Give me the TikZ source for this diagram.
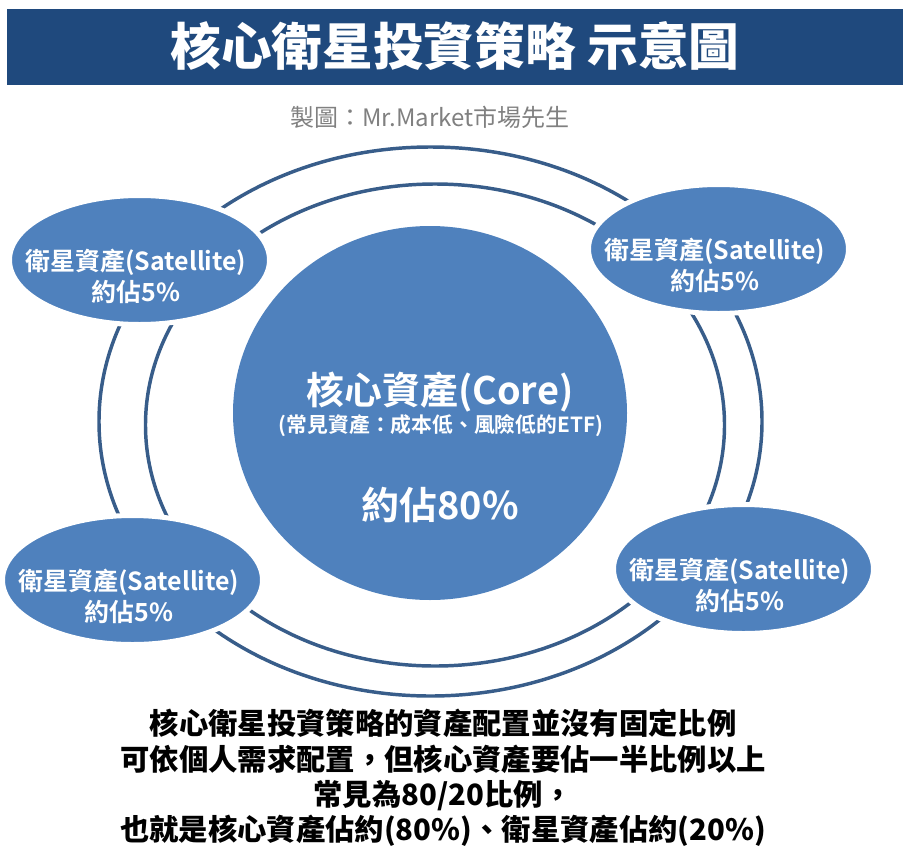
\documentclass[tikz,border=0pt]{standalone}
\usepackage{fontspec}
\setmainfont{Noto Sans CJK TC}[BoldFont={Noto Sans CJK TC Bold}]
\newfontfamily\heavyfont{Noto Sans CJK TC Black}
\usetikzlibrary{shapes.geometric}
\definecolor{titleblue}{HTML}{1F497D}
\definecolor{discblue}{HTML}{4F81BD}
\definecolor{ringblue}{HTML}{385D8A}
\tikzset{
  px/.style={x=0.75pt,y=-0.75pt},
  satellite/.style={ellipse,fill=discblue,draw=white,line width=3.75pt,minimum width=195pt,
    minimum height=96.75pt,inner sep=0pt},
  sattext/.style={xshift=-2.6pt,yshift=-12.4pt,align=center,text=white,
    font=\bfseries\fontsize{18.7pt}{23pt}\selectfont},
  ring/.style={draw=ringblue,line width=2.6pt},
}
\begin{document}
\begin{tikzpicture}[px]
    \useasboundingbox (0,0) rectangle (903,864);
    % ------ banner ---------------
    \fill [titleblue] (7,9) rectangle (903,85);
    \node (title) at (455,46) [text=white,font=\heavyfont\fontsize{38pt}{40pt}\selectfont] {核心衛星投資策略 示意圖};
    \node (credit) at (430,117) [text=gray,font=\fontsize{18pt}{20pt}\selectfont] {製圖：Mr.Market市場先生};

    % ------ rings ---------------
    \draw [ring] (430.5,421.5) ellipse (331.5 and 274.5);
    \draw [ring] (435,425) ellipse (289.5 and 241);

    % ------ discs ---------------
    \node (core) at (430,413) [ellipse,fill=discblue,minimum width=295.5pt,minimum height=280.5pt,inner sep=0pt] {};
    \node (sat1) at (139.5,260) [satellite] {};
    \node (sat2) at (718.5,249) [satellite] {};
    \node (sat3) at (132.5,580) [satellite] {};
    \node (sat4) at (743.5,569) [satellite] {};
    \node (sat1txt) at (sat1) [sattext] {衛星資產(Satellite)\\約佔5\%};
    \node (sat2txt) at (sat2) [sattext] {衛星資產(Satellite)\\約佔5\%};
    \node (sat3txt) at (sat3) [sattext] {衛星資產(Satellite)\\約佔5\%};
    \node (sat4txt) at (sat4) [sattext] {衛星資產(Satellite)\\約佔5\%};

    \node (coreA) at (440,392) [text=white,font=\bfseries\fontsize{28.4pt}{30pt}\selectfont] {核心資產(Core)};
    \node (coreB) at (441,426) [text=white,font=\bfseries\fontsize{15.6pt}{18pt}\selectfont] {(常見資產：成本低、風險低的ETF)};
    \node (coreC) at (440,505) [text=white,font=\bfseries\fontsize{28.5pt}{30pt}\selectfont] {約佔80\%};

    % ------ caption ---------------
    \node (note) at (443,778) [align=center,font=\heavyfont\fontsize{22pt}{26.6pt}\selectfont]
      {核心衛星投資策略的資產配置並沒有固定比例\\可依個人需求配置，但核心資產要佔一半比例以上\\常見為80/20比例，\\也就是核心資產佔約(80\%)、衛星資產佔約(20\%)};
\end{tikzpicture}
\end{document}
